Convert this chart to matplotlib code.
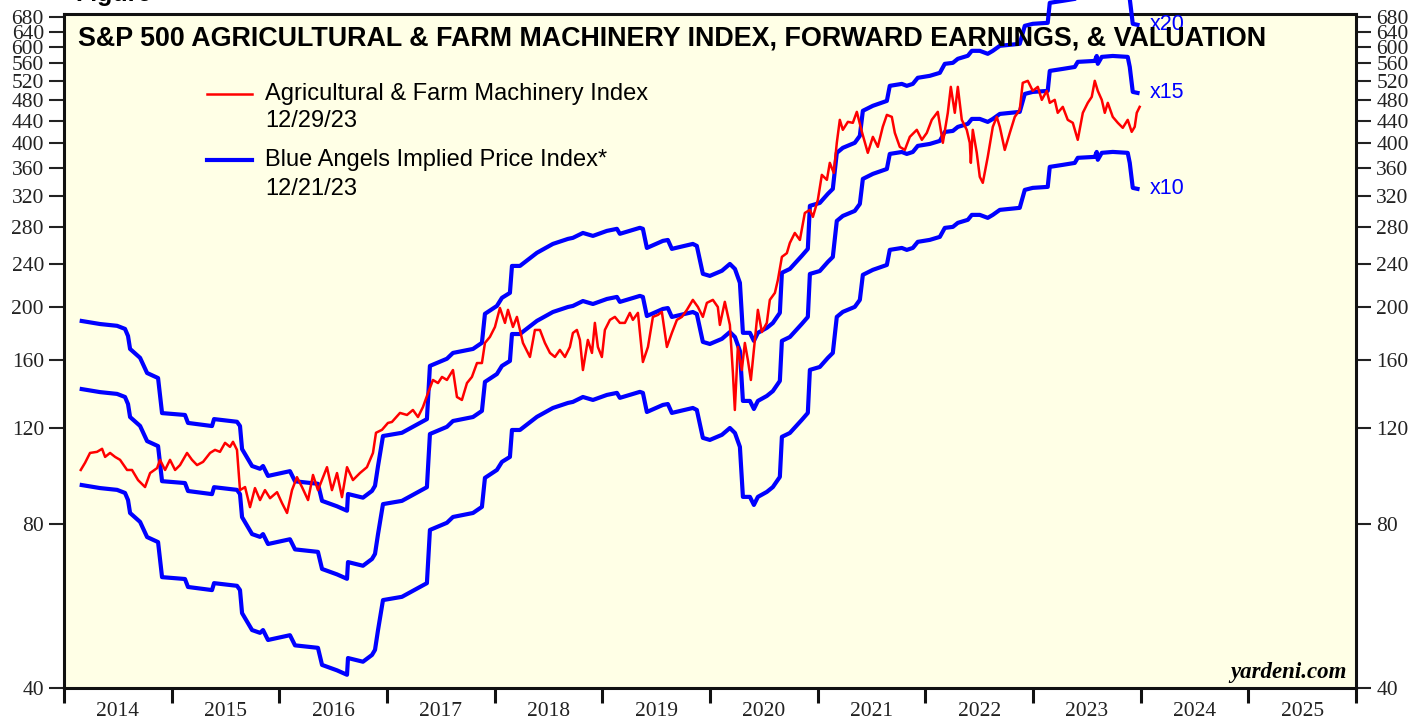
import matplotlib
matplotlib.use("Agg")
import matplotlib.pyplot as plt
from matplotlib.lines import Line2D

# forward earnings, decimal years
fe_dates = [2014.164, 2014.334, 2014.492, 2014.566, 2014.594, 2014.613, 2014.706, 2014.771, 2014.873, 2014.910,
            2015.123, 2015.151, 2015.374, 2015.393, 2015.606, 2015.634, 2015.653, 2015.746, 2015.820, 2015.848,
            2015.894, 2016.098, 2016.145, 2016.358, 2016.396, 2016.535, 2016.628, 2016.637, 2016.776, 2016.860,
            2016.888, 2016.916, 2016.962, 2017.138, 2017.370, 2017.398, 2017.556, 2017.612, 2017.798, 2017.881,
            2017.909, 2018.020, 2018.067, 2018.141, 2018.160, 2018.234, 2018.392, 2018.540, 2018.680, 2018.726,
            2018.819, 2018.912, 2019.042, 2019.135, 2019.162, 2019.348, 2019.376, 2019.413, 2019.562, 2019.608,
            2019.645, 2019.840, 2019.877, 2019.933, 2019.998, 2020.110, 2020.184, 2020.231, 2020.277, 2020.305,
            2020.370, 2020.407, 2020.444, 2020.527, 2020.583, 2020.648, 2020.667, 2020.741, 2020.852, 2020.908,
            2020.927, 2021.019, 2021.094, 2021.140, 2021.177, 2021.233, 2021.344, 2021.391, 2021.419, 2021.512,
            2021.642, 2021.669, 2021.781, 2021.827, 2021.883, 2021.929, 2022.041, 2022.134, 2022.180, 2022.255,
            2022.301, 2022.394, 2022.431, 2022.505, 2022.579, 2022.626, 2022.691, 2022.876, 2022.923, 2022.997,
            2023.136, 2023.155, 2023.276, 2023.387, 2023.415, 2023.573, 2023.591, 2023.601, 2023.638, 2023.740,
            2023.879, 2023.898, 2023.926, 2023.970]
fwd_earnings = [9.43, 9.31, 9.24, 9.12, 8.85, 8.38, 8.07, 7.57, 7.41, 6.39,
                6.34, 6.13, 6.05, 6.23, 6.16, 6.05, 5.49, 5.11, 5.05, 5.11,
                4.90, 5.00, 4.79, 4.74, 4.41, 4.31, 4.23, 4.54, 4.47, 4.60,
                4.70, 5.11, 5.80, 5.88, 6.23, 7.80, 8.04, 8.24, 8.38, 8.60,
                9.72, 10.05, 10.40, 10.62, 11.90, 11.90, 12.58, 13.06, 13.34, 13.40,
                13.68, 13.51, 13.80, 13.92, 13.63, 13.98, 13.92, 12.84, 13.23, 13.28,
                12.79, 13.06, 12.95, 11.51, 11.41, 11.66, 12.00, 11.75, 11.08, 8.97,
                8.97, 8.67, 8.97, 9.16, 9.35, 9.76, 11.56, 11.75, 12.42, 12.79,
                15.34, 15.53, 16.14, 16.48, 19.19, 19.60, 20.02, 20.62, 22.92, 23.41,
                23.90, 25.47, 25.68, 25.47, 25.68, 26.35, 26.57, 26.91, 27.95, 28.07,
                28.55, 28.92, 29.53, 29.53, 29.16, 29.53, 30.16, 30.42, 32.82, 33.10,
                33.24, 36.17, 36.48, 36.78, 37.58, 37.73, 38.53, 37.27, 38.38, 38.53,
                38.38, 36.78, 33.10, 32.96]
multiples = [20, 15, 10]

# Agricultural & Farm Machinery index
idx_dates = [2014.155, 2014.195, 2014.241, 2014.306, 2014.353, 2014.381, 2014.427, 2014.474, 2014.520, 2014.585,
             2014.631, 2014.687, 2014.752, 2014.799, 2014.864, 2014.891, 2014.938, 2014.984, 2015.031, 2015.077,
             2015.142, 2015.188, 2015.235, 2015.291, 2015.356, 2015.402, 2015.448, 2015.495, 2015.541, 2015.569,
             2015.606, 2015.634, 2015.681, 2015.727, 2015.773, 2015.820, 2015.866, 2015.913, 2015.978, 2016.024,
             2016.071, 2016.117, 2016.163, 2016.210, 2016.266, 2016.312, 2016.358, 2016.405, 2016.442, 2016.488,
             2016.535, 2016.581, 2016.628, 2016.683, 2016.748, 2016.813, 2016.869, 2016.897, 2016.953, 2017.008,
             2017.045, 2017.120, 2017.185, 2017.240, 2017.287, 2017.333, 2017.380, 2017.426, 2017.473, 2017.510,
             2017.556, 2017.612, 2017.649, 2017.695, 2017.742, 2017.788, 2017.835, 2017.881, 2017.909, 2017.955,
             2018.002, 2018.048, 2018.095, 2018.123, 2018.169, 2018.206, 2018.262, 2018.327, 2018.373, 2018.420,
             2018.466, 2018.513, 2018.559, 2018.605, 2018.652, 2018.698, 2018.726, 2018.763, 2018.791, 2018.819,
             2018.865, 2018.903, 2018.930, 2018.958, 2018.995, 2019.023, 2019.070, 2019.116, 2019.162, 2019.209,
             2019.255, 2019.283, 2019.330, 2019.376, 2019.423, 2019.469, 2019.515, 2019.552, 2019.599, 2019.645,
             2019.692, 2019.738, 2019.785, 2019.840, 2019.887, 2019.933, 2019.970, 2020.026, 2020.072, 2020.091,
             2020.137, 2020.184, 2020.212, 2020.230, 2020.258, 2020.295, 2020.323, 2020.351, 2020.379, 2020.416,
             2020.444, 2020.481, 2020.527, 2020.555, 2020.602, 2020.630, 2020.667, 2020.713, 2020.741, 2020.787,
             2020.834, 2020.880, 2020.927, 2020.955, 2021.001, 2021.038, 2021.085, 2021.112, 2021.149, 2021.177,
             2021.205, 2021.233, 2021.280, 2021.326, 2021.363, 2021.410, 2021.465, 2021.512, 2021.558, 2021.604,
             2021.642, 2021.688, 2021.716, 2021.762, 2021.809, 2021.855, 2021.920, 2021.967, 2022.013, 2022.059,
             2022.115, 2022.162, 2022.208, 2022.236, 2022.273, 2022.301, 2022.338, 2022.384, 2022.412, 2022.422,
             2022.440, 2022.477, 2022.505, 2022.533, 2022.579, 2022.626, 2022.663, 2022.691, 2022.737, 2022.784,
             2022.830, 2022.876, 2022.904, 2022.951, 2022.997, 2023.044, 2023.081, 2023.127, 2023.155, 2023.201,
             2023.229, 2023.276, 2023.322, 2023.369, 2023.415, 2023.462, 2023.508, 2023.545, 2023.573, 2023.601,
             2023.638, 2023.666, 2023.694, 2023.740, 2023.787, 2023.833, 2023.879, 2023.916, 2023.944, 2023.963,
             2023.990]
idx_values = [100.5, 103.6, 108.0, 108.5, 109.9, 106.2, 108.0, 106.2, 104.9, 100.5,
              100.5, 96.3, 93.5, 99.2, 101.3, 104.9, 100.5, 104.9, 100.5, 102.6,
              108.0, 104.9, 102.6, 104.0, 108.0, 109.4, 108.5, 112.7, 110.8, 113.2,
              109.4, 92.3, 93.5, 85.9, 93.1, 88.5, 92.3, 89.2, 91.5, 87.4,
              83.8, 92.3, 97.5, 93.5, 88.5, 98.4, 92.3, 97.5, 101.7, 92.3,
              99.2, 89.6, 101.7, 96.3, 99.2, 101.7, 108.0, 117.6, 119.1, 122.6,
              123.1, 127.9, 126.8, 129.5, 125.7, 131.1, 139.1, 147.0, 145.1, 148.9,
              147.0, 153.3, 136.8, 135.1, 145.1, 148.9, 157.9, 157.9, 171.9, 176.3,
              183.9, 199.3, 187.1, 197.7, 183.9, 191.9, 171.9, 162.0, 181.6, 181.6,
              171.9, 164.8, 162.0, 166.9, 162.0, 169.0, 179.3, 181.6, 174.1, 153.3,
              174.1, 164.8, 187.1, 169.0, 162.0, 181.6, 189.5, 191.9, 187.1, 187.1,
              195.2, 189.5, 195.2, 158.6, 169.0, 191.9, 193.5, 196.0, 169.0, 179.3,
              189.5, 191.9, 197.7, 206.2, 200.1, 191.9, 203.6, 206.2, 200.1, 185.5,
              204.5, 185.5, 151.4, 129.5, 169.0, 153.3, 171.9, 159.9, 147.0, 174.1,
              197.7, 180.0, 187.1, 206.2, 212.4, 224.4, 247.3, 251.2, 262.3, 273.6,
              265.6, 297.7, 301.6, 292.8, 314.7, 349.7, 342.4, 367.9, 352.7, 400.4,
              441.2, 423.0, 437.5, 435.7, 456.4, 419.4, 383.8, 410.6, 393.6, 428.4,
              450.6, 446.8, 417.6, 393.6, 388.6, 410.6, 423.0, 405.5, 417.6, 441.2,
              456.4, 400.4, 454.5, 507.2, 454.5, 507.2, 441.2, 423.0, 400.4, 367.9,
              423.0, 383.8, 346.8, 338.1, 377.3, 428.4, 446.8, 428.4, 388.6, 417.6,
              446.8, 460.3, 515.9, 520.3, 498.7, 507.2, 480.1, 498.7, 474.1, 480.1,
              454.5, 466.1, 441.2, 435.7, 405.5, 454.5, 474.1, 486.2, 520.3, 498.7,
              480.1, 454.5, 474.1, 446.8, 435.7, 426.6, 441.2, 419.4, 428.4, 454.5,
              466.1]

years = list(range(2014, 2026))
y_ticks = [40, 80, 120, 160, 200, 240, 280, 320, 360, 400, 440, 480, 520, 560, 600, 640, 680]

SANS = "Liberation Sans"
SERIF = "Liberation Serif"

fig = plt.figure(figsize=(14.27, 7.19), dpi=100)
ax = fig.add_axes([0.0449, 0.0431, 0.9054, 0.9374])
ax.set_facecolor("#ffffe6")

for m in multiples:
    ax.plot(fe_dates, [m * e for e in fwd_earnings], color="#0000ff", lw=3.0,
            solid_joinstyle="round", clip_on=False, zorder=3)
    ax.text(fe_dates[-1] + 0.11, m * fwd_earnings[-1], "x%d" % m, color="#0000ff",
            fontsize=15.5, family=SANS, va="center", ha="left", zorder=5)

ax.plot(idx_dates, idx_values, color="#ff0000", lw=1.8, zorder=4)

ax.set_yscale("log")
ax.set_ylim(40, 690)
ax.set_xlim(2014, 2026)
ax.yaxis.set_minor_locator(matplotlib.ticker.NullLocator())
ax.set_yticks(y_ticks, [str(t) for t in y_ticks])
ax.tick_params(axis="y", which="major", left=True, right=True, labelleft=True,
               labelright=True, direction="out", length=11, width=1.5, pad=3.5,
               labelsize=15.5, colors="#222222")
for lab in ax.get_yticklabels():
    lab.set_family(SERIF)

# years: ticks on the boundaries, labels in the middle
ax.set_xticks(years + [2026])
ax.set_xticklabels([])
ax.set_xticks([y + 0.5 for y in years], [str(y) for y in years], minor=True)
ax.tick_params(axis="x", which="major", direction="out", length=11, width=2.2, color="#111111")
ax.tick_params(axis="x", which="minor", length=0, pad=10, labelsize=15.5, labelcolor="#222222")
for lab in ax.get_xticklabels(minor=True):
    lab.set_family(SERIF)

for s in ax.spines.values():
    s.set_linewidth(2.2)
    s.set_color("#111111")

ax.text(0.0108, 0.964, "S&P 500 AGRICULTURAL & FARM MACHINERY INDEX, FORWARD EARNINGS, & VALUATION",
        transform=ax.transAxes, fontsize=19.4, fontweight="bold", family=SANS,
        va="center", ha="left", zorder=6)

# legend
ax.add_line(Line2D([0.1107, 0.1455], [0.8813, 0.8813], transform=ax.transAxes, color="#ff0000", lw=1.8))
ax.add_line(Line2D([0.1107, 0.1455], [0.7834, 0.7834], transform=ax.transAxes, color="#0000ff", lw=3.0))
ax.text(0.1556, 0.8813, "Agricultural & Farm Machinery Index", transform=ax.transAxes,
        fontsize=17, family=SANS, va="center", ha="left")
ax.text(0.1556, 0.8413, "12/29/23", transform=ax.transAxes, fontsize=17, family=SANS, va="center", ha="left")
ax.text(0.1556, 0.7834, "Blue Angels Implied Price Index*", transform=ax.transAxes,
        fontsize=17, family=SANS, va="center", ha="left")
ax.text(0.1556, 0.7404, "12/21/23", transform=ax.transAxes, fontsize=17, family=SANS, va="center", ha="left")

ax.text(0.993, 0.0237, "yardeni.com", transform=ax.transAxes, fontsize=16.5, family=SERIF,
        fontweight="bold", fontstyle="italic", va="center", ha="right")

fig.text(0.0530, 0.9986, "Figure", fontsize=18, fontweight="bold", family=SANS, va="baseline", ha="left")

fig.savefig("out.png", dpi=100)
